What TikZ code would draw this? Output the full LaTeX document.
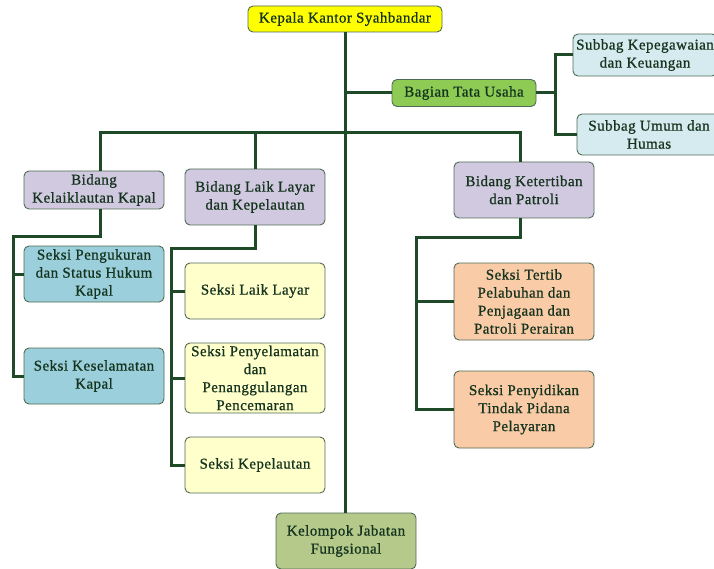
\documentclass[tikz,border=0pt]{standalone}
\usepackage{fontspec}
\setmainfont[LetterSpace=3,FakeBold=0.8]{Liberation Serif}
\definecolor{linec}{HTML}{1E4A28}
\definecolor{bordc}{HTML}{4F6B55}
\definecolor{txtc}{HTML}{15331E}
\definecolor{cyel}{HTML}{FFFF00}
\definecolor{cgrn}{HTML}{8DCB55}
\definecolor{cltb}{HTML}{D5EBEF}
\definecolor{cpur}{HTML}{D1C9E0}
\definecolor{cteal}{HTML}{9ACFDB}
\definecolor{clye}{HTML}{FFFFCC}
\definecolor{csal}{HTML}{F9CBA7}
\definecolor{colv}{HTML}{B5C98A}
\tikzset{
  box/.style={draw=bordc, line width=0.9pt, rounded corners=5pt, align=center,
    text=txtc, font=\fontsize{15}{18}\selectfont, inner sep=0pt},
  conn/.style={draw=linec, line width=3pt},
}
\begin{document}
\begin{tikzpicture}[x=1pt,y=-1pt]
\useasboundingbox (0,0) rectangle (714,569);
\clip (0,0) rectangle (714,569);
\coordinate (t1) at (345,93);
\coordinate (b1) at (555,93);
\coordinate (h1) at (100,133);
\coordinate (h3) at (520,133);
\coordinate (v1) at (13,237);
\coordinate (v2) at (171,248);
\coordinate (v3) at (416,238);
% nodes
\node[box, fill=cyel, minimum width=194pt, minimum height=26pt] (kep) at (345,19) {Kepala Kantor Syahbandar};
\node[box, fill=cgrn, minimum width=144pt, minimum height=27pt] (bag) at (464,93) {Bagian Tata Usaha};
\node[box, fill=cltb, minimum width=144pt, minimum height=42pt] (sub1) at (645,55) {Subbag Kepegawaian\\dan Keuangan};
\node[box, fill=cltb, minimum width=144pt, minimum height=41pt] (sub2) at (649,134.5) {Subbag Umum dan\\Humas};
\node[box, fill=cpur, minimum width=140pt, minimum height=38pt] (bid1) at (94,190) {Bidang\\Kelaiklautan Kapal};
\node[box, fill=cpur, minimum width=140pt, minimum height=56pt] (bid2) at (255,197) {Bidang Laik Layar\\dan Kepelautan};
\node[box, fill=cpur, minimum width=140pt, minimum height=56pt] (bid3) at (524,190) {Bidang Ketertiban\\dan Patroli};
\node[box, fill=cteal, minimum width=140pt, minimum height=56pt] (s1) at (94,274) {Seksi Pengukuran\\dan Status Hukum\\Kapal};
\node[box, fill=cteal, minimum width=140pt, minimum height=56pt] (s2) at (94,376) {Seksi Keselamatan\\Kapal};
\node[box, fill=clye, minimum width=140pt, minimum height=56pt] (s3) at (255,291) {Seksi Laik Layar};
\node[box, fill=clye, minimum width=140pt, minimum height=70pt] (s4) at (255,378) {Seksi Penyelamatan\\dan\\Penanggulangan\\Pencemaran};
\node[box, fill=clye, minimum width=140pt, minimum height=56pt] (s5) at (255,465) {Seksi Kepelautan};
\node[box, fill=csal, minimum width=140pt, minimum height=77pt] (s6) at (524,301.5) {Seksi Tertib\\Pelabuhan dan\\Penjagaan dan\\Patroli Perairan};
\node[box, fill=csal, minimum width=140pt, minimum height=77pt] (s7) at (524,409.5) {Seksi Penyidikan\\Tindak Pidana\\Pelayaran};
\node[box, fill=colv, minimum width=140pt, minimum height=56pt] (kel) at (346,541) {Kelompok Jabatan\\Fungsional};
% connectors
\draw[conn] (kep.south) -- (kep.south |- kel.north);
\draw[conn] (t1) -- (bag.west);
\draw[conn] (bag.east) -- (b1);
\draw[conn] (sub1.west) -| (b1) |- (sub2.west);
\draw[conn] (h1 |- bid1.north) -- (h1) -- (h3) -- (h3 |- bid3.north);
\draw[conn] (bid2.north) -- (bid2.north |- h1);
\draw[conn] (h1 |- bid1.south) -- (h1 |- v1) -- (v1) |- (s2.west);
\draw[conn] (s1.west) -- (v1 |- s1.west);
\draw[conn] (bid2.south) |- (v2) |- (s5.west);
\draw[conn] (s3.west) -- (v2 |- s3.west);
\draw[conn] (s4.west) -- (v2 |- s4.west);
\draw[conn] (h3 |- bid3.south) |- (v3) |- (s7.west);
\draw[conn] (s6.west) -- (v3 |- s6.west);
\end{tikzpicture}
\end{document}
